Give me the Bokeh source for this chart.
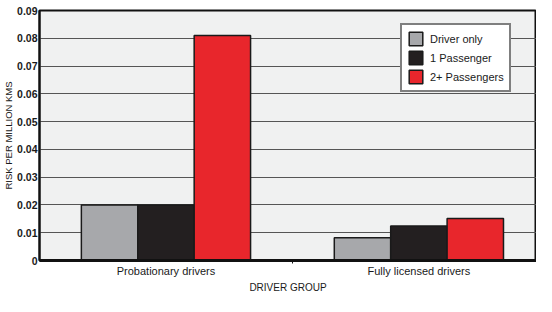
from bokeh.plotting import figure
from bokeh.models import ColumnDataSource, Range1d, FixedTicker, Legend, LegendItem
from bokeh.transform import dodge
from bokeh.embed import file_html
from bokeh.resources import INLINE

groups = ["Probationary drivers", "Fully licensed drivers"]
series = ["Driver only", "1 Passenger", "2+ Passengers"]
driver_only = [0.020, 0.0082]
one_passenger = [0.020, 0.0124]
two_plus = [0.081, 0.0151]
colors = ["#a7a8ab", "#231f20", "#e8262c"]
y_ticks = [0, 0.01, 0.02, 0.03, 0.04, 0.05, 0.06, 0.07, 0.08, 0.09]
y_tick_labels = ["0", "0.01", "0.02", "0.03", "0.04", "0.05", "0.06", "0.07", "0.08", "0.09"]

pos = [i + 0.5 for i in range(len(groups))]
bounds = [i + 1.0 for i in range(len(groups) - 1)]
src = ColumnDataSource(dict(pos=pos, s0=driver_only, s1=one_passenger, s2=two_plus))

FONT = "Liberation Sans"
TXT = "#1a1a1a"

p = figure(x_range=Range1d(0, 1.965), y_range=Range1d(0, 0.09),
           width=536, frame_height=250, output_backend="svg", toolbar_location=None,
           min_border_left=0, min_border_right=0, min_border_top=10, min_border_bottom=0)
p.background_fill_color = "#f0f1f1"
p.border_fill_color = "white"
p.outline_line_color = "#111111"
p.outline_line_width = 2

bw = 0.223
items = []
for i, (key, name, c) in enumerate(zip(["s0", "s1", "s2"], series, colors)):
    r = p.vbar(x=dodge("pos", (i - 1) * bw), top=key, width=bw, source=src,
               fill_color=c, line_color="#1a1a1a", line_width=1.5)
    items.append(LegendItem(label=name, renderers=[r]))

legend = Legend(items=items, location=(361, 168))
legend.label_text_font = FONT
legend.label_text_font_size = "11px"
legend.label_text_color = TXT
legend.glyph_width = 17
legend.glyph_height = 17
legend.label_height = 17
legend.spacing = 2
legend.padding = 5
legend.margin = 0
legend.border_line_color = "black"
legend.border_line_width = 2
legend.background_fill_color = "white"
legend.background_fill_alpha = 1
legend.label_standoff = 6
p.add_layout(legend)

p.xgrid.grid_line_color = None
p.ygrid.grid_line_color = "#555555"
p.ygrid.grid_line_width = 1
p.ygrid.ticker = FixedTicker(ticks=y_ticks)

p.yaxis.ticker = FixedTicker(ticks=y_ticks)
p.yaxis.major_label_overrides = {t: l for t, l in zip(y_ticks, y_tick_labels)}
p.yaxis.major_tick_line_color = None
p.yaxis.major_tick_out = 0
p.yaxis.major_tick_in = 0
p.yaxis.minor_tick_line_color = None
p.yaxis.minor_tick_out = 0
p.yaxis.axis_line_color = "#111111"
p.yaxis.axis_line_width = 2
p.yaxis.major_label_text_font = FONT
p.yaxis.major_label_text_font_size = "10.5px"
p.yaxis.major_label_text_font_style = "bold"
p.yaxis.major_label_text_color = TXT
p.yaxis.major_label_standoff = 2
p.yaxis.axis_label = "RISK PER MILLION KMS"
p.yaxis.axis_label_text_font = FONT
p.yaxis.axis_label_text_font_size = "9.5px"
p.yaxis.axis_label_text_font_style = "normal"
p.yaxis.axis_label_text_color = TXT
p.yaxis.axis_label_standoff = 0

p.xaxis.ticker = FixedTicker(ticks=pos, minor_ticks=bounds)
p.xaxis.major_label_overrides = {x: g for x, g in zip(pos, groups)}
p.xaxis.major_tick_line_color = None
p.xaxis.major_tick_out = 0
p.xaxis.major_tick_in = 0
p.xaxis.minor_tick_line_color = "#111111"
p.xaxis.minor_tick_line_width = 1
p.xaxis.minor_tick_out = 3
p.xaxis.minor_tick_in = 0
p.xaxis.axis_line_color = "#111111"
p.xaxis.axis_line_width = 3
p.xaxis.major_label_text_font = FONT
p.xaxis.major_label_text_font_size = "11px"
p.xaxis.major_label_text_color = TXT
p.xaxis.major_label_standoff = 1
p.xaxis.axis_label = "DRIVER GROUP"
p.xaxis.axis_label_text_font = FONT
p.xaxis.axis_label_text_font_size = "10px"
p.xaxis.axis_label_text_font_style = "normal"
p.xaxis.axis_label_text_color = TXT
p.xaxis.axis_label_standoff = 2

open("out.html", "w").write(file_html(p, INLINE))
